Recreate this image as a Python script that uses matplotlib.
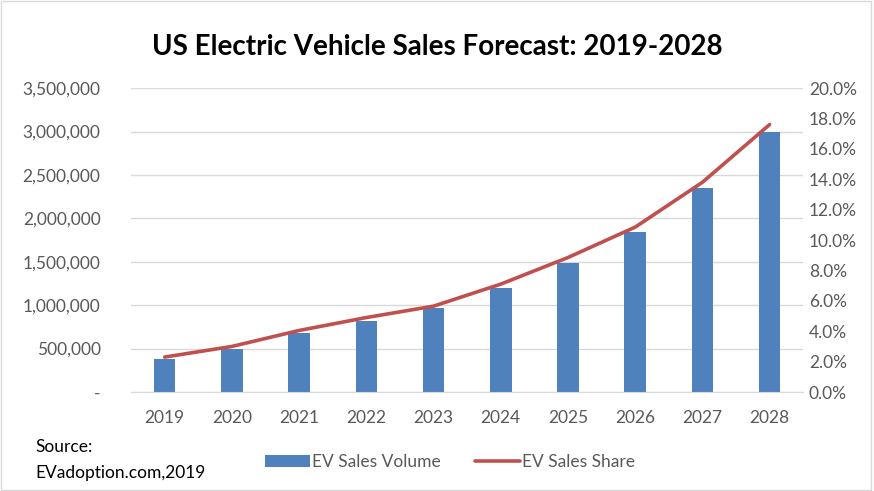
import numpy as np
import matplotlib
matplotlib.use('Agg')
import matplotlib.pyplot as plt
from matplotlib.ticker import FuncFormatter
from matplotlib.patches import Rectangle

plt.rcParams['font.family'] = ['Lato', 'DejaVu Sans']

years = ['2019', '2020', '2021', '2022', '2023', '2024', '2025', '2026', '2027', '2028']
sales_volume = [380000, 500000, 685000, 820000, 965000, 1200000, 1490000, 1845000, 2350000, 3000000]
sales_share = [2.3, 3.0, 4.05, 4.9, 5.65, 7.1, 8.85, 10.85, 13.8, 17.6]

BAR_COLOR = '#4F81BD'
LINE_COLOR = '#C0504D'
TICK_COLOR = '#595959'
GRID_COLOR = '#D9D9D9'

fig = plt.figure(figsize=(8.74, 4.91), dpi=100)
ax = fig.add_axes([0.150, 0.2016, 0.769, 0.619])
ax2 = ax.twinx()

x = np.arange(len(years))
bars = ax.bar(x, sales_volume, width=0.32, color=BAR_COLOR, zorder=2, label='EV Sales Volume')
line, = ax2.plot(x, sales_share, color=LINE_COLOR, lw=2.6, solid_capstyle='round',
                 zorder=3, label='EV Sales Share')

ax.set_xlim(-0.5, len(years) - 0.5)
ax.set_ylim(0, 3500000)
ax.set_yticks(np.arange(0, 3500001, 500000))
ax.yaxis.set_major_formatter(FuncFormatter(lambda v, p: '-' if v == 0 else f'{int(v):,}'))
ax2.set_ylim(0, 20)
ax2.set_yticks(np.arange(0, 20.1, 2))
ax2.yaxis.set_major_formatter(FuncFormatter(lambda v, p: f'{v:.1f}%'))

ax.set_xticks(x)
ax.set_xticklabels(years)

for a in (ax, ax2):
    for s in a.spines.values():
        s.set_visible(False)
    a.tick_params(length=0, labelsize=12.5, colors=TICK_COLOR)
ax.spines['bottom'].set_visible(True)
ax.spines['bottom'].set_color(GRID_COLOR)
ax.tick_params(axis='x', pad=13)
ax.tick_params(axis='y', pad=22)
ax2.tick_params(axis='y', pad=4)

ax.grid(axis='y', color=GRID_COLOR, lw=1, zorder=0)
ax.set_axisbelow(True)

fig.text(0.5, 0.905, 'US Electric Vehicle Sales Forecast: 2019-2028', ha='center', va='center',
         fontsize=20, fontweight='bold', color='#000000')

fig.legend(handles=[bars, line], loc='center', bbox_to_anchor=(0.515, 0.059), ncol=2,
           frameon=False, fontsize=12.5, labelcolor=TICK_COLOR, handlelength=2.6,
           handletextpad=0.1, columnspacing=2.0)

fig.text(0.040, 0.09, 'Source:', ha='left', va='center', fontsize=12.5, color='#000000')
fig.text(0.040, 0.037, 'EVadoption.com,2019', ha='left', va='center', fontsize=12.5, color='#000000')

fig.patches.append(Rectangle((0.001, 0.002), 0.996, 0.995, transform=fig.transFigure,
                             fill=False, edgecolor=GRID_COLOR, lw=1))

fig.savefig('out.png', dpi=100)
